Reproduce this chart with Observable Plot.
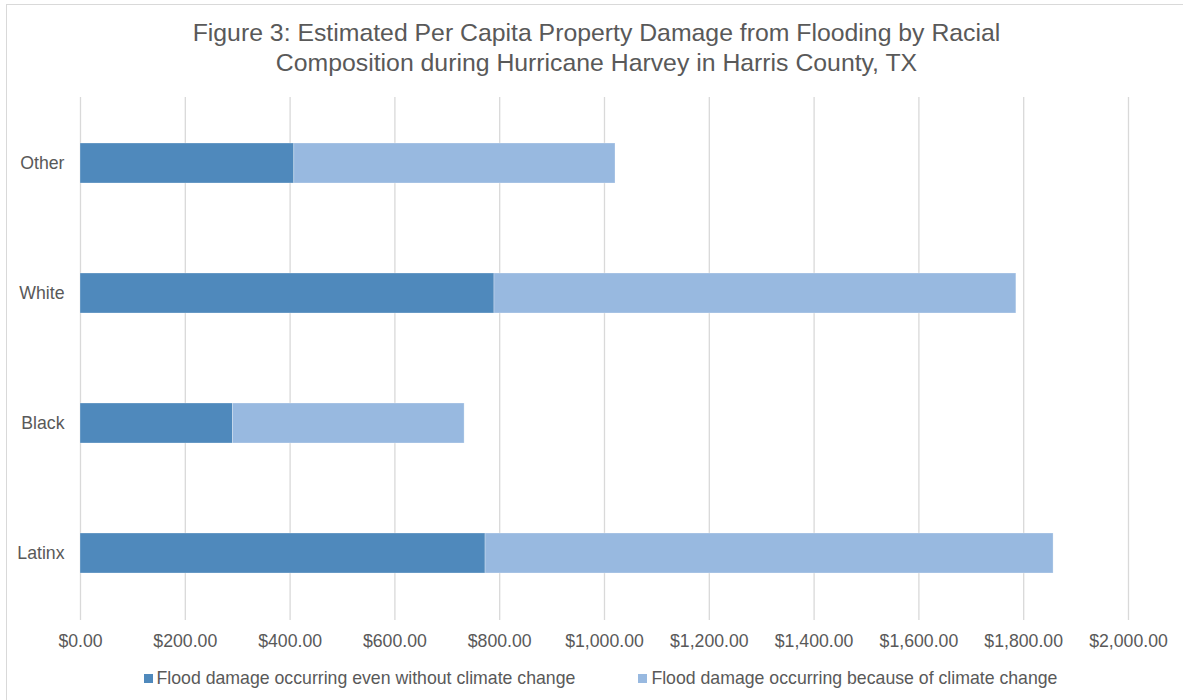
<!DOCTYPE html>
<html>
<head>
<meta charset="utf-8">
<script src="https://cdn.jsdelivr.net/npm/d3@7"></script>
<script src="https://cdn.jsdelivr.net/npm/@observablehq/plot@0.6"></script>
<style>
  html, body { margin: 0; padding: 0; background: #fff; }
  body { width: 1183px; height: 700px; overflow: hidden; font-family: "Liberation Sans", Arial, sans-serif; }
  #frame { position: absolute; left: 6px; top: 4px; width: 1190px; height: 705px; border: 1.5px solid #d9d9d9; box-sizing: border-box; }
  #wrap { position: absolute; left: 0; top: 0; width: 1183px; }
  #title { height: 80px; box-sizing: border-box; padding-top: 18px; padding-left: 10px; text-align: center; color: #595959; font-size: 24.8px; line-height: 30px; }
  #legend { display: flex; justify-content: center; gap: 0; color: #595959; font-size: 17.7px; margin-top: 8px; padding-left: 18px; }
  .item { display: flex; align-items: center; }
  .sw { width: 9px; height: 9px; margin-right: 4px; }
</style>
</head>
<body>
<div id="frame"></div>
<div id="wrap">
  <div id="title">Figure 3: Estimated Per Capita Property Damage from Flooding by Racial<br>Composition during Hurricane Harvey in Harris County, TX</div>
  <div id="chart"></div>
  <div id="legend"></div>
</div>
<script>
const categories = ["Other", "White", "Black", "Latinx"];
const seriesNames = [
  "Flood damage occurring even without climate change",
  "Flood damage occurring because of climate change"
];
const withoutClimateChange = [408, 790, 291, 773];
const becauseOfClimateChange = [613, 996, 442, 1084];
const xTicks = [0, 200, 400, 600, 800, 1000, 1200, 1400, 1600, 1800, 2000];
const seriesColors = ["#4f89bc", "#98b9e0"];

const data = [];
categories.forEach((c, i) => {
  data.push({category: c, series: seriesNames[0], value: withoutClimateChange[i]});
  data.push({category: c, series: seriesNames[1], value: becauseOfClimateChange[i]});
});

const fmt = d3.format("$,.2f");

const chart = Plot.plot({
  width: 1183,
  height: 580,
  marginTop: 17,
  marginBottom: 40,
  marginLeft: 80,
  marginRight: 55,
  style: {fontFamily: "'Liberation Sans', Arial, sans-serif", color: "#595959", background: "transparent"},
  x: {domain: [0, 2000], ticks: xTicks, label: null},
  y: {domain: categories, paddingInner: 0.689, paddingOuter: 0.3445, label: null},
  color: {domain: seriesNames, range: seriesColors},
  marks: [
    Plot.ruleX(xTicks, {stroke: "#d9d9d9", strokeWidth: 1.3}),
    Plot.barX(data, Plot.stackX({y: "category", x: "value", fill: "series", order: seriesNames, stroke: "#ffffff", strokeOpacity: 0.35, strokeWidth: 0.8})),
    Plot.axisX({ticks: xTicks, tickFormat: fmt, tickSize: 0, tickPadding: 14, fontSize: 17.7, fill: "#595959", label: null}),
    Plot.axisY({tickSize: 0, tickPadding: 16, fontSize: 17.7, fill: "#595959", label: null})
  ]
});
document.getElementById("chart").appendChild(chart);

const legend = document.getElementById("legend");
seriesNames.forEach((name, i) => {
  const item = document.createElement("div");
  item.className = "item";
  item.style.marginRight = i === 0 ? "63px" : "0";
  const sw = document.createElement("span");
  sw.className = "sw";
  sw.style.background = seriesColors[i];
  const t = document.createElement("span");
  t.textContent = name;
  item.appendChild(sw);
  item.appendChild(t);
  legend.appendChild(item);
});
</script>
</body>
</html>
